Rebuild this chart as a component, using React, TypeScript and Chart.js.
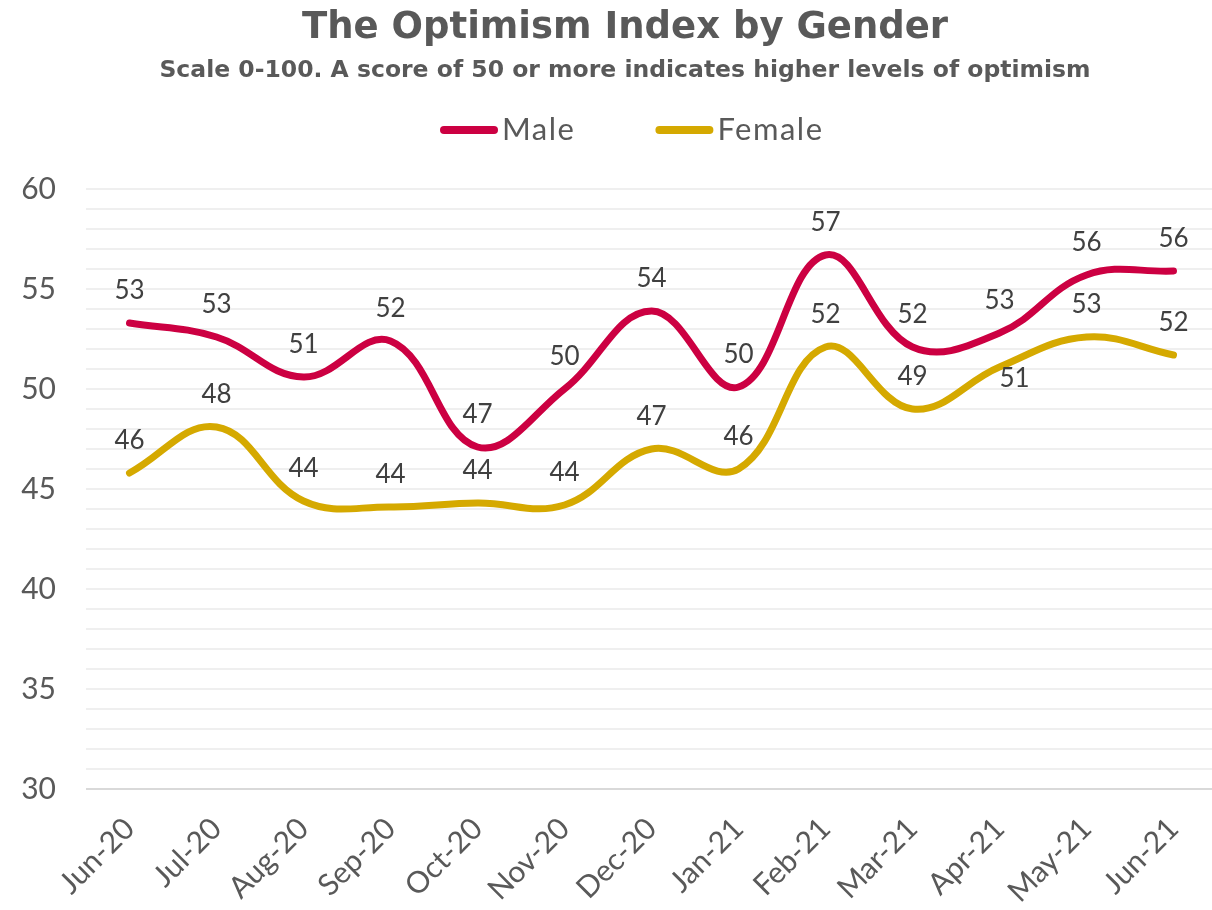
import React, { useEffect, useRef } from "react";
import { Chart, registerables } from "chart.js";

Chart.register(...registerables);

const categories = ["Jun-20", "Jul-20", "Aug-20", "Sep-20", "Oct-20", "Nov-20", "Dec-20", "Jan-21", "Feb-21", "Mar-21", "Apr-21", "May-21", "Jun-21"];
const maleValues = [53.3, 52.6, 50.6, 52.4, 47.1, 50.0, 53.9, 50.1, 56.7, 52.1, 52.8, 55.7, 55.9];
const femaleValues = [45.8, 48.1, 44.4, 44.1, 44.3, 44.2, 47.0, 46.0, 52.1, 49.0, 51.1, 52.6, 51.7];
const yMin = 30;
const yMax = 60;
const titleText = "The Optimism Index by Gender";
const subtitleText = "Scale 0-100. A score of 50 or more indicates higher levels of optimism";

const BOLD_FONT = "'DejaVu Sans', sans-serif";
const FONT = "Lato, 'Open Sans', sans-serif";
const MALE = "#CC0042";
const FEMALE = "#D5A900";
const TEXT = "#595959";

const headerPlugin = {
  id: "header",
  afterDraw(chart: any) {
    const ctx = chart.ctx;
    ctx.save();
    ctx.fillStyle = TEXT;
    ctx.textAlign = "center";
    ctx.textBaseline = "alphabetic";
    const cx = 625;
    ctx.font = `bold 37px ${BOLD_FONT}`;
    ctx.fillText(titleText, cx, 38);
    ctx.font = `bold 23.5px ${BOLD_FONT}`;
    ctx.fillText(subtitleText, cx, 77);

    // legend
    ctx.font = `31px ${FONT}`;
    try { (ctx as any).letterSpacing = "1.5px"; } catch (e) {}
    ctx.textAlign = "left";
    ctx.textBaseline = "middle";
    const sw = 58;
    const gapText = 4;
    const gapItem = 80;
    const items = chart.data.datasets.map((d: any) => ({ label: d.label, color: d.borderColor, w: ctx.measureText(d.label).width }));
    let x = 440;
    const y = 130;
    items.forEach((it: any) => {
      ctx.strokeStyle = it.color;
      ctx.lineWidth = 8;
      ctx.lineCap = "round";
      ctx.beginPath();
      ctx.moveTo(x + 4, y);
      ctx.lineTo(x + sw - 4, y);
      ctx.stroke();
      ctx.fillStyle = TEXT;
      ctx.fillText(it.label, x + sw + gapText, y);
      x += sw + gapText + it.w + gapItem;
    });
    ctx.restore();
  },
};

const labelPlugin = {
  id: "pointLabels",
  afterDatasetsDraw(chart: any) {
    const ctx = chart.ctx;
    ctx.save();
    ctx.font = `26px ${FONT}`;
    ctx.fillStyle = "#404040";
    ctx.textAlign = "center";
    ctx.textBaseline = "middle";
    chart.data.datasets.forEach((ds: any, di: number) => {
      const meta = chart.getDatasetMeta(di);
      meta.data.forEach((pt: any, i: number) => {
        const ov = (ds.labelOverride || {})[i];
        const dx = ov ? ov[0] : 0;
        const dy = ov ? ov[1] : -32;
        ctx.fillText(String(Math.round(ds.data[i])), pt.x + dx, pt.y + dy);
      });
    });
    ctx.restore();
  },
};

export default function App() {
  const ref = useRef<HTMLCanvasElement>(null);
  useEffect(() => {
    if (!ref.current) return;
    const chart = new Chart(ref.current, {
      type: "line",
      data: {
        labels: categories,
        datasets: [
          {
            label: "Male",
            data: maleValues,
            borderColor: MALE,
            backgroundColor: MALE,
            borderWidth: 7,
            borderCapStyle: "round",
            tension: 0.4,
            pointRadius: 0,
          } as any,
          {
            label: "Female",
            data: femaleValues,
            borderColor: FEMALE,
            backgroundColor: FEMALE,
            borderWidth: 7,
            borderCapStyle: "round",
            tension: 0.4,
            pointRadius: 0,
            labelOverride: { 10: [15, 12] },
          } as any,
        ],
      },
      options: {
        responsive: false,
        animation: false,
        layout: { padding: { left: 0, right: 8, top: 189, bottom: 0 } },
        plugins: {
          title: { display: false },
          legend: { display: false },
          tooltip: { enabled: false },
        },
        scales: {
          x: {
            offset: true,
            grid: { display: false, drawTicks: false },
            border: { display: false },
            ticks: {
              color: TEXT,
              font: { family: FONT, size: 30 },
              minRotation: 45,
              maxRotation: 45,
              autoSkip: false,
              padding: 22,
            },
            afterFit: (s: any) => {
              s.height = 121;
              s.paddingLeft = 0;
              s.paddingRight = 0;
            },
          },
          y: {
            min: yMin,
            max: yMax,
            border: { display: false },
            grid: {
              drawTicks: false,
              color: (c: any) => (c.tick && c.tick.value === yMin ? "#D9D9D9" : "#EFEFEF"),
              lineWidth: 2,
            },
            ticks: {
              stepSize: 1,
              autoSkip: false,
              color: TEXT,
              font: { family: FONT, size: 30 },
              padding: 30,
              callback: (v: any) => (Number(v) % 5 === 0 ? String(v) : ""),
            },
            afterFit: (s: any) => {
              s.width = 86;
            },
          },
        },
      },
      plugins: [labelPlugin, headerPlugin],
    });
    return () => chart.destroy();
  }, []);
  return (
    <div style={{ position: "fixed", left: 0, top: 0, width: 1212, height: 910, overflow: "hidden", background: "#fff" }}>
      <canvas ref={ref} width={1225} height={910} style={{ display: "block" }} />
    </div>
  );
}
